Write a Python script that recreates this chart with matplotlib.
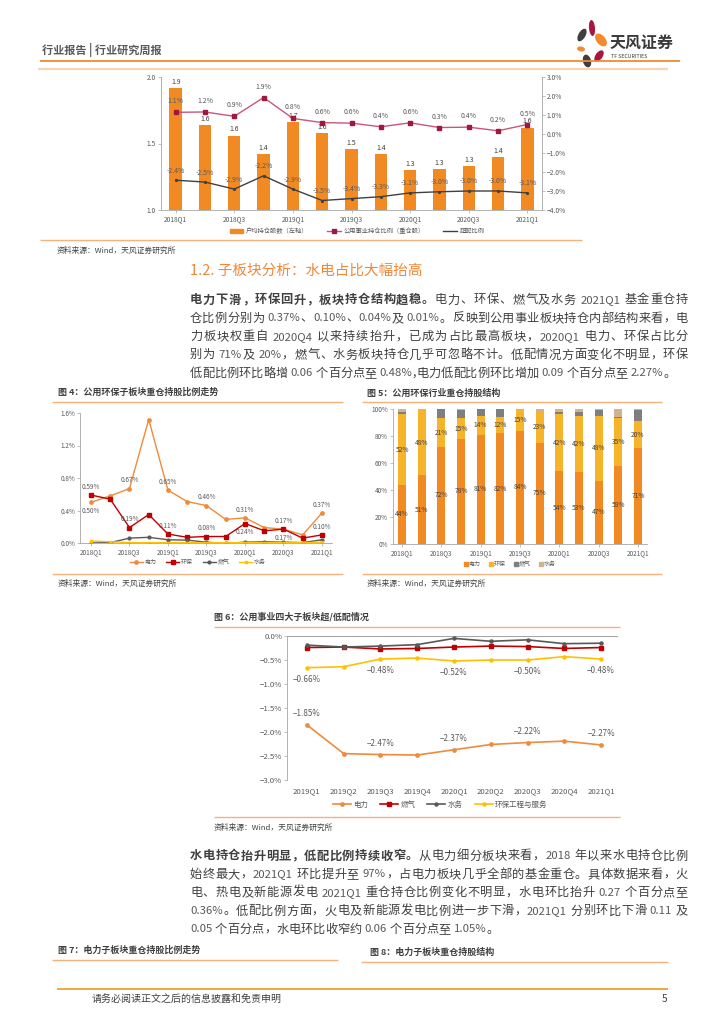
import re
import matplotlib
matplotlib.use('Agg')
import matplotlib.pyplot as plt
from matplotlib.lines import Line2D
from matplotlib.patches import Ellipse, Patch

plt.rcParams['font.family'] = ['Noto Sans CJK SC', 'DejaVu Sans']
plt.rcParams['axes.unicode_minus'] = True

W, H = 724, 1024

# ---------------- data ----------------
quarters = ['2018Q1', '2018Q2', '2018Q3', '2018Q4', '2019Q1', '2019Q2', '2019Q3',
            '2019Q4', '2020Q1', '2020Q2', '2020Q3', '2020Q4', '2021Q1']
avg_hold = [1.92, 1.64, 1.56, 1.42, 1.66, 1.58, 1.46, 1.42, 1.30, 1.31, 1.33, 1.40, 1.62]
util_ratio = [1.14, 1.16, 0.93, 1.92, 0.82, 0.60, 0.57, 0.38, 0.59, 0.34, 0.36, 0.17, 0.50]
over_ratio = [-2.43, -2.53, -2.90, -2.20, -2.90, -3.50, -3.40, -3.30, -3.10, -3.04, -3.00, -3.00, -3.10]

# fig 4
power_w = [0.50, 0.58, 0.67, 1.52, 0.65, 0.51, 0.46, 0.29, 0.31, 0.19, 0.17, 0.10, 0.37]
env_w = [0.59, 0.54, 0.19, 0.35, 0.11, 0.07, 0.08, 0.08, 0.24, 0.15, 0.17, 0.06, 0.10]
gas_w = [0.00, 0.005, 0.06, 0.07, 0.04, 0.035, 0.01, -0.005, 0.01, 0.015, 0.01, 0.005, 0.04]
water_w = [0.025, 0.015, 0.005, 0.005, 0.005, 0.005, 0.005, 0.005, 0.005, 0.005, 0.005, 0.005, 0.01]

# fig 5
share_power = [44, 51, 72, 78, 81, 82, 84, 75, 54, 53, 47, 58, 71]
share_env = [52, 48, 21, 15, 14, 12, 15, 23, 42, 42, 48, 35, 20]
share_gas = [2, 0, 7, 6, 5, 6, 0, 0, 2, 3, 4, 1, 8]
share_water = [2, 1, 0, 1, 0, 0, 1, 2, 2, 2, 1, 6, 1]

# fig 6
q6 = ['2019Q1', '2019Q2', '2019Q3', '2019Q4', '2020Q1', '2020Q2', '2020Q3', '2020Q4', '2021Q1']
uw_power = [-1.85, -2.45, -2.47, -2.48, -2.37, -2.26, -2.22, -2.19, -2.27]
uw_gas = [-0.24, -0.23, -0.27, -0.26, -0.23, -0.21, -0.22, -0.26, -0.24]
uw_water = [-0.19, -0.23, -0.21, -0.18, -0.05, -0.11, -0.08, -0.16, -0.15]
uw_env = [-0.66, -0.64, -0.48, -0.46, -0.52, -0.50, -0.50, -0.43, -0.48]

para1 = [
    [('电力下滑，环保回升，板块持仓结构趋稳。', True), ('电力、环保、燃气及水务 2021Q1 基金重仓持', False)],
    [('仓比例分别为 0.37%、0.10%、0.04%及 0.01%。反映到公用事业板块持仓内部结构来看，电', False)],
    [('力板块权重自 2020Q4 以来持续抬升，已成为占比最高板块，2020Q1 电力、环保占比分', False)],
    [('别为 71%及 20%，燃气、水务板块持仓几乎可忽略不计。低配情况方面变化不明显，环保', False)],
    [('低配比例环比略增 0.06 个百分点至 0.48%,电力低配比例环比增加 0.09 个百分点至 2.27%。', False)],
]
para2 = [
    [('水电持仓抬升明显，低配比例持续收窄。', True), ('从电力细分板块来看，2018 年以来水电持仓比例', False)],
    [('始终最大，2021Q1 环比提升至 97%，占电力板块几乎全部的基金重仓。具体数据来看，火', False)],
    [('电、热电及新能源发电 2021Q1 重仓持仓比例变化不明显，水电环比抬升 0.27 个百分点至', False)],
    [('0.36%。低配比例方面，火电及新能源发电比例进一步下滑，2021Q1 分别环比下滑 0.11 及', False)],
    [('0.05 个百分点，水电环比收窄约 0.06 个百分点至 1.05%。', False)],
]

ORANGE = '#F28A24'
TXT = '#404040'
TICK = '#595959'
SPINE = '#A6A6A6'
LINE_LIGHT = '#F6B27C'

fig = plt.figure(figsize=(W / 100, H / 100), dpi=100)
bg = fig.add_axes([0, 0, 1, 1])
bg.set_xlim(0, W)
bg.set_ylim(H, 0)
bg.axis('off')
renderer = fig.canvas.get_renderer()


def add_ax(x0, y0, x1, y1):
    return fig.add_axes([x0 / W, 1 - y1 / H, (x1 - x0) / W, (y1 - y0) / H])


def hline(y, x0, x1, color, lw=1.0):
    bg.plot([x0, x1], [y, y], color=color, lw=lw, solid_capstyle='butt')


def style(ax, size=4.8):
    for s in ['top', 'right']:
        ax.spines[s].set_visible(False)
    for s in ['left', 'bottom']:
        ax.spines[s].set_color(SPINE)
        ax.spines[s].set_linewidth(0.6)
    ax.tick_params(labelsize=size, colors=SPINE, labelcolor=TICK, length=2, width=0.5, pad=1.5)


# ---------------- header ----------------
bg.text(42, 50, '行业报告 | 行业研究周报', fontsize=8, fontweight='bold', color='#595959', va='center')
hline(61, 40, 680, '#F08C2E', 1.3)
hline(69, 38, 668, '#FAD3B2', 1.6)
petals = [((582, 35), 7, 14, 30, '#3F3F3F'), ((592, 28), 6, 16, -5, '#A8173F'),
          ((601, 40), 9, 15, -40, '#F08C2E'), ((581, 49), 8, 5, 10, '#F08C2E'),
          ((599, 56), 7, 13, 35, '#A8173F'), ((587, 61), 8, 13, -15, '#3F3F3F')]
for c, w_, h_, a, col in petals:
    bg.add_patch(Ellipse(c, w_, h_, angle=a, color=col, lw=0))
bg.text(610, 43, '天风证券', fontsize=11.5, fontweight='bold', color='#3A3A3A', va='center')
bg.text(611, 56, 'TF SECURITIES', fontsize=3.8, color='#3A3A3A', va='center')

# ---------------- top chart ----------------
ax1 = add_ax(161, 77, 542, 210)
x = range(len(quarters))
ax1.bar(x, avg_hold, width=0.42, color=ORANGE, zorder=2)
ax1.set_ylim(1.0, 2.0)
ax1.set_xlim(-0.5, 12.5)
ax1.set_yticks([1.0, 1.5, 2.0])
ax1.set_yticklabels(['1.0', '1.5', '2.0'])
ax1.set_xticks(range(0, 13, 2))
ax1.set_xticklabels(quarters[::2])
style(ax1)
for i, v in enumerate(avg_hold):
    ax1.annotate(f'{v:.1f}', (i, v), xytext=(0, 1.5), textcoords='offset points',
                 ha='center', va='bottom', fontsize=5, color=TXT)
ax2 = ax1.twinx()
ax2.set_ylim(-4, 3)
ax2.set_yticks(range(-4, 4))
ax2.set_yticklabels([f'{v:.1f}%'.replace('-', '−') for v in range(-4, 4)])
ax2.spines['top'].set_visible(False)
ax2.spines['left'].set_visible(False)
ax2.spines['bottom'].set_visible(False)
ax2.spines['right'].set_color(SPINE)
ax2.spines['right'].set_linewidth(0.6)
ax2.tick_params(labelsize=4.8, colors=SPINE, labelcolor=TICK, length=2, width=0.5, pad=1.5)
ax2.plot(x, util_ratio, color='#CC5577', lw=1, marker='s', ms=2.6, mfc='#A0173F', mec='#A0173F', zorder=3)
ax2.plot(x, over_ratio, color='#404040', lw=1, marker='o', ms=1.3, zorder=3)
for i, v in enumerate(util_ratio):
    ax2.annotate(f'{v:.1f}%', (i, v), xytext=(0, 5), textcoords='offset points',
                 ha='center', va='bottom', fontsize=5, color=TICK)
for i, v in enumerate(over_ratio):
    ax2.annotate(f'{v:.1f}%', (i, v), xytext=(0, 4), textcoords='offset points',
                 ha='center', va='bottom', fontsize=5, color=TICK)
h_top = [Patch(color=ORANGE),
         Line2D([], [], color='#CC5577', lw=1, marker='s', ms=2.6, mfc='#A0173F', mec='#A0173F'),
         Line2D([], [], color='#404040', lw=1)]
fig.legend(h_top, ['户均持仓股数（左轴）', '公用事业持仓比例（重仓股）', '超配比例'],
           loc='center', bbox_to_anchor=(357 / W, 1 - 231 / H), ncol=3, frameon=False,
           fontsize=4.5, handlelength=2.2, handleheight=0.6, columnspacing=3, handletextpad=0.4,
           labelcolor=TICK)
hline(240, 40, 582, LINE_LIGHT, 1.0)
bg.text(57, 251, '资料来源：Wind，天风证券研究所', fontsize=5.6, color=TXT, va='center')

# ---------------- section title + paragraph 1 ----------------
bg.text(190, 271, '1.2. 子板块分析：水电占比大幅抬高', fontsize=10.5, color='#F0883A',
        fontweight='medium', va='center')


def tw(s, size, bold):
    t = bg.text(0, 0, s, fontsize=size, fontweight='bold' if bold else 'normal')
    w = t.get_window_extent(renderer=renderer).width
    t.remove()
    return w


def paragraph(lines, y0, step, size=8.8, left=190, right=688):
    sp = tw('a a', size, False) - tw('aa', size, False)
    for k, parts in enumerate(lines):
        toks = []
        for s, bold in parts:
            for tok in re.findall(r'[A-Za-z0-9.%]+|.', s):
                toks.append((tok, bold))
        ws = []
        for tok, bold in toks:
            if tok == ' ':
                ws.append(sp)
            elif re.match(r'[A-Za-z0-9.%]', tok):
                ws.append(tw(tok, size * 0.93, bold))
            else:
                ws.append(tw(tok, size, bold))
        gap = 0
        if k < len(lines) - 1:
            gap = (right - left - sum(ws)) / (len(toks) - 1)
        xx = left
        for (tok, bold), w in zip(toks, ws):
            if tok != ' ':
                latin = re.match(r'[A-Za-z0-9.%]', tok) is not None
                bg.text(xx, y0 + k * step, tok, fontsize=size * 0.93 if latin else size,
                        va='center', ha='left', fontweight='bold' if bold else 'normal',
                        color=TICK if latin else TXT)
            xx += w + gap


paragraph(para1, 300, 18.3)

# ---------------- fig 4 ----------------
bg.text(58, 392, '图 4：公用环保子板块重仓持股比例走势', fontsize=6.5, fontweight='bold', color=TXT, va='center')
hline(402, 52, 343, LINE_LIGHT, 1.0)
ax4 = add_ax(80, 413, 332, 543)
style(ax4, 4.6)
ax4.set_xlim(-0.57, 12.52)
ax4.set_ylim(0, 1.6)
ax4.set_yticks([0, 0.4, 0.8, 1.2, 1.6])
ax4.set_yticklabels(['0.0%', '0.4%', '0.8%', '1.2%', '1.6%'])
ax4.set_xticks(range(0, 13, 2))
ax4.set_xticklabels(quarters[::2])
c4 = ['#F08A3C', '#C00000', '#595959', '#FFC000']
ax4.plot(x, power_w, color=c4[0], lw=1, marker='o', ms=2.4, label='电力')
ax4.plot(x, env_w, color=c4[1], lw=1, marker='s', ms=2.2, label='环保')
ax4.plot(x, gas_w, color=c4[2], lw=1, marker='o', ms=2.0, label='燃气')
ax4.plot(x, water_w, color=c4[3], lw=1, marker='s', ms=2.0, label='水务')
for i in range(0, 13, 2):
    dy = -9 if i == 0 else 3
    ax4.annotate(f'{power_w[i]:.2f}%', (i, power_w[i]), xytext=(0, dy), textcoords='offset points',
                 ha='center', va='bottom', fontsize=4.6, color=TICK)
    dy = -9 if i in (8, 10) else 3
    ax4.annotate(f'{env_w[i]:.2f}%', (i, env_w[i]), xytext=(0, dy), textcoords='offset points',
                 ha='center', va='bottom', fontsize=4.6, color=TICK)
ax4.legend(loc='center', bbox_to_anchor=(198 / W, 1 - 562 / H), bbox_transform=fig.transFigure,
           ncol=4, frameon=False, fontsize=4.3, handlelength=2.2, columnspacing=1.6,
           handletextpad=0.3, labelcolor=TICK)
hline(574, 52, 343, LINE_LIGHT, 1.0)
bg.text(58, 584, '资料来源：Wind，天风证券研究所', fontsize=5.6, color=TXT, va='center')

# ---------------- fig 5 ----------------
bg.text(367, 393, '图 5：公用环保行业重仓持股结构', fontsize=6.5, fontweight='bold', color=TXT, va='center')
hline(402, 362, 662, LINE_LIGHT, 1.0)
ax5 = add_ax(393, 409, 647, 544)
style(ax5, 4.6)
ax5.set_xlim(-0.46, 12.46)
ax5.set_ylim(0, 100)
ax5.set_yticks(range(0, 101, 20))
ax5.set_yticklabels([f'{v}%' for v in range(0, 101, 20)])
ax5.set_xticks(range(0, 13, 2))
ax5.set_xticklabels(quarters[::2])
c5 = ['#F28A24', '#F6B42A', '#7F7F7F', '#CDB38E']
b1 = [a + b for a, b in zip(share_power, share_env)]
b2 = [a + b for a, b in zip(b1, share_gas)]
ax5.bar(x, share_power, width=0.4, color=c5[0], label='电力')
ax5.bar(x, share_env, width=0.4, bottom=share_power, color=c5[1], label='环保')
ax5.bar(x, share_gas, width=0.4, bottom=b1, color=c5[2], label='燃气')
ax5.bar(x, share_water, width=0.4, bottom=b2, color=c5[3], label='水务')
for i in x:
    ax5.text(i, share_power[i] / 2, f'{share_power[i]}%', ha='center', va='center', fontsize=4.8, color=TXT)
    ax5.text(i, share_power[i] + share_env[i] / 2, f'{share_env[i]}%', ha='center', va='center',
             fontsize=4.8, color=TXT)
h5 = [Line2D([], [], ls='none', marker='s', ms=2.6, color=c) for c in c5]
ax5.legend(h5, ['电力', '环保', '燃气', '水务'], loc='center', bbox_to_anchor=(510 / W, 1 - 564 / H),
           bbox_transform=fig.transFigure, ncol=4, frameon=False, fontsize=4.3, handlelength=0.6,
           columnspacing=1.4, handletextpad=0.2, labelcolor=TICK)
hline(574, 362, 662, LINE_LIGHT, 1.0)
bg.text(367, 584, '资料来源：Wind，天风证券研究所', fontsize=5.6, color=TXT, va='center')

# ---------------- fig 6 ----------------
bg.text(214, 617, '图 6：公用事业四大子板块超/低配情况', fontsize=6.5, fontweight='bold', color=TXT, va='center')
hline(627, 214, 620, LINE_LIGHT, 1.0)
ax6 = add_ax(287, 636, 618, 780)
x6 = range(len(q6))
ax6.set_xlim(-0.54, 8.46)
ax6.set_ylim(-3, 0)
for s in ['top', 'right', 'bottom']:
    ax6.spines[s].set_visible(False)
ax6.spines['left'].set_color(SPINE)
ax6.spines['left'].set_linewidth(0.6)
ax6.axhline(0, color=SPINE, lw=0.8)
yt6 = [-3.0, -2.5, -2.0, -1.5, -1.0, -0.5, 0.0]
ax6.set_yticks(yt6)
ax6.set_yticklabels([f'{v:.1f}%'.replace('-', '−') for v in yt6])
ax6.set_xticks(list(x6))
ax6.set_xticklabels(q6)
ax6.tick_params(axis='y', labelsize=5.6, colors=SPINE, labelcolor=TICK, length=2, width=0.5, pad=1.5)
ax6.tick_params(axis='x', labelsize=5.6, labelcolor=TICK, length=0, pad=5)
ax6.plot(x6, uw_power, color='#F08A3C', lw=1.2, marker='o', ms=2.4, label='电力')
ax6.plot(x6, uw_gas, color='#C00000', lw=1.2, marker='s', ms=2.2, label='燃气')
ax6.plot(x6, uw_water, color='#595959', lw=1.2, marker='o', ms=2.2, label='水务')
ax6.plot(x6, uw_env, color='#FFC000', lw=1.2, marker='o', ms=2.2, label='环保工程与服务')
for i in range(0, 9, 2):
    ax6.annotate(f'{uw_power[i]:.2f}%'.replace('-', '−'), (i, uw_power[i]), xytext=(0, 5),
                 textcoords='offset points', ha='center', va='bottom', fontsize=5.8, color=TICK)
    ax6.annotate(f'{uw_env[i]:.2f}%'.replace('-', '−'), (i, uw_env[i]), xytext=(0, -5),
                 textcoords='offset points', ha='center', va='top', fontsize=5.8, color=TICK)
ax6.legend(loc='center', bbox_to_anchor=(440 / W, 1 - 805 / H), bbox_transform=fig.transFigure,
           ncol=4, frameon=False, fontsize=5.4, handlelength=2.4, columnspacing=1.6,
           handletextpad=0.3, labelcolor=TICK)
hline(817, 214, 620, LINE_LIGHT, 1.0)
bg.text(214, 828, '资料来源：Wind，天风证券研究所', fontsize=5.6, color=TXT, va='center')

# ---------------- paragraph 2 ----------------
paragraph(para2, 856, 18.3)

bg.text(58, 950, '图 7：电力子板块重仓持股比例走势', fontsize=6.5, fontweight='bold', color=TXT, va='center')
hline(960, 52, 338, LINE_LIGHT, 1.0)
bg.text(370, 952, '图 8：电力子板块重仓持股结构', fontsize=6.5, fontweight='bold', color=TXT, va='center')
hline(962, 361, 668, LINE_LIGHT, 1.0)

# ---------------- footer ----------------
hline(989, 57, 668, '#F0A030', 1.3)
bg.text(92, 999, '请务必阅读正文之后的信息披露和免责申明', fontsize=7.2, color=TXT, va='center')
bg.text(662, 999, '5', fontsize=7.2, color=TXT, va='center')

fig.savefig('out.png', dpi=100)
